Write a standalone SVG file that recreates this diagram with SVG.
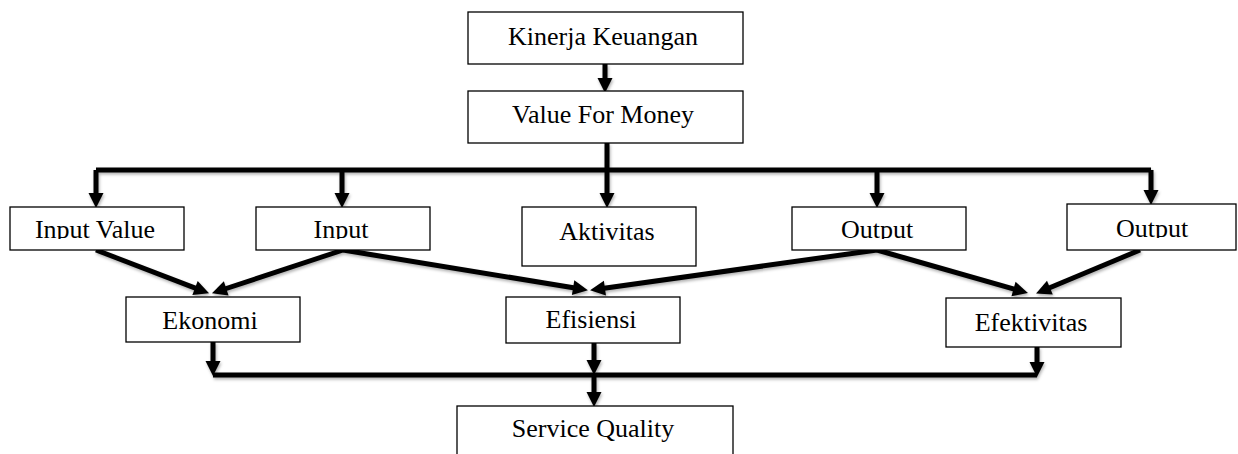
<svg xmlns="http://www.w3.org/2000/svg" width="1238" height="454" viewBox="0 0 1238 454">
<style>
.box{fill:#fff;stroke:#000;stroke-width:1.3}
.lbl{font-family:'Liberation Serif','Times New Roman','DejaVu Serif',serif;font-size:26px;fill:#000;text-anchor:middle}
.ln{fill:none;stroke:#000;stroke-width:5;stroke-linecap:butt;stroke-linejoin:miter}
.arr{marker-end:url(#ah)}
</style>
<defs>
<marker id="ah" markerUnits="userSpaceOnUse" markerWidth="16" markerHeight="16" refX="8" refY="7.5" orient="auto" overflow="visible">
<path d="M0,0 L15,7.5 L0,15 z" fill="#000"/>
</marker>
<filter id="sh" x="-5%" y="-20%" width="110%" height="140%">
<feDropShadow dx="1" dy="2" stdDeviation="1.5" flood-color="#000" flood-opacity="0.3"/>
</filter>
<clipPath id="c1"><rect x="0" y="200" width="1238" height="39"/></clipPath>
<clipPath id="c2"><rect x="0" y="200" width="1238" height="38"/></clipPath>
</defs>

<g id="connectors" filter="url(#sh)">
<path class="ln arr" d="M605,64 V86"/>
<path class="ln arr" d="M607,143 V201"/>
<path class="ln" d="M96,170 H1151"/>
<path class="ln arr" d="M96,170 V201"/>
<path class="ln arr" d="M342,170 V201"/>
<path class="ln arr" d="M877,170 V201"/>
<path class="ln arr" d="M1151,170 V198"/>
<path class="ln arr" d="M96,250 L202.5,290.8"/>
<path class="ln arr" d="M343,250 L218.6,291"/>
<path class="ln arr" d="M343,250 L581,289"/>
<path class="ln arr" d="M877,250 L597,289.2"/>
<path class="ln arr" d="M877,250 L1021.2,291.2"/>
<path class="ln arr" d="M1140,250 L1042.5,290.7"/>
<path class="ln arr" d="M213,342 V369"/>
<path class="ln arr" d="M594,343 V368"/>
<path class="ln arr" d="M1037,347 V370"/>
<path class="ln" d="M213,375 H1037"/>
<path class="ln arr" d="M594,374 V400"/>
</g>

<g font-family="Liberation Serif, Times New Roman, DejaVu Serif, serif">
<g id="kinerja"><rect class="box" x="468" y="12" width="275" height="52"/><text class="lbl" x="603" y="45">Kinerja Keuangan</text></g>
<g id="vfm"><rect class="box" x="468" y="91" width="275" height="52"/><text class="lbl" x="603" y="123">Value For Money</text></g>
<g id="inputvalue"><rect class="box" x="10" y="207" width="174" height="43"/><text class="lbl" x="95" y="238" clip-path="url(#c1)">Input Value</text></g>
<g id="input"><rect class="box" x="256" y="207" width="174" height="43"/><text class="lbl" x="341" y="238" clip-path="url(#c1)">Input</text></g>
<g id="aktivitas"><rect class="box" x="522" y="207" width="174" height="59"/><text class="lbl" x="607" y="240">Aktivitas</text></g>
<g id="output1"><rect class="box" x="792" y="207" width="174" height="43"/><text class="lbl" x="877" y="238" clip-path="url(#c1)">Output</text></g>
<g id="output2"><rect class="box" x="1067" y="204" width="169" height="46"/><text class="lbl" x="1152" y="237" clip-path="url(#c2)">Output</text></g>
<g id="ekonomi"><rect class="box" x="126" y="297" width="174" height="45"/><text class="lbl" x="210" y="329">Ekonomi</text></g>
<g id="efisiensi"><rect class="box" x="506" y="297" width="174" height="46"/><text class="lbl" x="591" y="328">Efisiensi</text></g>
<g id="efektivitas"><rect class="box" x="946" y="298" width="175" height="49"/><text class="lbl" x="1031" y="331">Efektivitas</text></g>
<g id="service"><rect class="box" x="457" y="406" width="276" height="60"/><text class="lbl" x="593" y="437">Service Quality</text></g>
</g>
</svg>
